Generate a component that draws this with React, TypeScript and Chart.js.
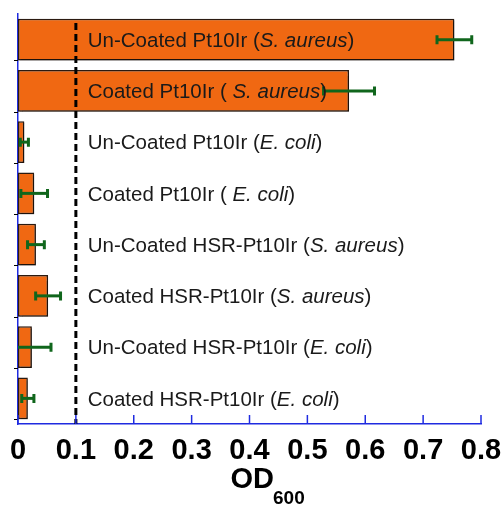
import React, { useEffect, useRef } from "react";
import { Chart, registerables } from "chart.js";

Chart.register(...registerables);

// ---------- data ----------
const labelPrefixes = [
  "Un-Coated Pt10Ir (",
  "Coated Pt10Ir ( ",
  "Un-Coated Pt10Ir (",
  "Coated Pt10Ir ( ",
  "Un-Coated HSR-Pt10Ir (",
  "Coated HSR-Pt10Ir (",
  "Un-Coated HSR-Pt10Ir (",
  "Coated HSR-Pt10Ir (",
];
const labelSpecies = [
  "S. aureus",
  "S. aureus",
  "E. coli",
  "E. coli",
  "S. aureus",
  "S. aureus",
  "E. coli",
  "E. coli",
];
const labelSuffix = ")";
const od600Values = [0.754, 0.572, 0.011, 0.028, 0.031, 0.052, 0.024, 0.017];
const od600Errors = [0.03, 0.044, 0.007, 0.023, 0.0145, 0.0215, 0.033, 0.0105];
const xTickValues = [0, 0.1, 0.2, 0.3, 0.4, 0.5, 0.6, 0.7, 0.8];
const thresholdOD = 0.1;
const axisTitleMain = "OD";
const axisTitleSub = "600";

// ---------- styles ----------
const FONT = "'Liberation Sans', Arial, Helvetica, sans-serif";
const AXIS_BLUE = "#1f2be0";
const BAR_FILL = "#f06812";
const BAR_BORDER = "#2b1a10";
const ERR_GREEN = "#10661c";
const TEXT_COLOR = "#1a1a1a";

const categoryKeys = labelPrefixes.map((p, i) => p + labelSpecies[i] + labelSuffix);

const overlayPlugin = {
  id: "overlay",
  beforeDatasetsDraw(chart: any) {
    const ctx = chart.ctx;
    ctx.save();
    ctx.shadowColor = "rgba(0,0,0,0.35)";
    ctx.shadowOffsetX = 1.5;
    ctx.shadowOffsetY = 1.5;
    ctx.shadowBlur = 1;
  },
  afterDatasetsDraw(chart: any) {
    const ctx = chart.ctx;
    ctx.restore();
    const xs = chart.scales.x;
    const area = chart.chartArea;
    const meta = chart.getDatasetMeta(0);

    // dashed threshold line
    const xd = xs.getPixelForValue(thresholdOD);
    ctx.save();
    ctx.strokeStyle = "#000";
    ctx.lineWidth = 3;
    ctx.setLineDash([7, 4]);
    ctx.beginPath();
    ctx.moveTo(xd, area.top + 9);
    ctx.lineTo(xd, area.bottom);
    ctx.stroke();
    ctx.restore();

    // error bars
    ctx.save();
    ctx.beginPath();
    ctx.rect(area.left, area.top, area.right - area.left, area.bottom - area.top);
    ctx.clip();
    ctx.strokeStyle = ERR_GREEN;
    ctx.lineWidth = 3;
    meta.data.forEach((bar: any, i: number) => {
      const y = bar.y;
      const x1 = xs.getPixelForValue(od600Values[i] - od600Errors[i]);
      const x2 = xs.getPixelForValue(od600Values[i] + od600Errors[i]);
      ctx.beginPath();
      ctx.moveTo(x1, y);
      ctx.lineTo(x2, y);
      ctx.stroke();
      ctx.beginPath();
      ctx.moveTo(x1, y - 4.5);
      ctx.lineTo(x1, y + 4.5);
      ctx.moveTo(x2, y - 4.5);
      ctx.lineTo(x2, y + 4.5);
      ctx.stroke();
    });
    ctx.restore();

    // in-plot labels
    ctx.save();
    ctx.fillStyle = TEXT_COLOR;
    ctx.textBaseline = "middle";
    ctx.textAlign = "left";
    const labelX = xs.getPixelForValue(0.1205);
    meta.data.forEach((bar: any, i: number) => {
      const y = bar.y + 1.5;
      let x = labelX;
      ctx.font = `20.5px ${FONT}`;
      ctx.fillText(labelPrefixes[i], x, y);
      x += ctx.measureText(labelPrefixes[i]).width;
      ctx.font = `italic 20.5px ${FONT}`;
      ctx.fillText(labelSpecies[i], x, y);
      x += ctx.measureText(labelSpecies[i]).width;
      ctx.font = `20.5px ${FONT}`;
      ctx.fillText(labelSuffix, x, y);
    });
    ctx.restore();

    // small black category ticks on the y axis
    ctx.save();
    ctx.strokeStyle = "#000";
    ctx.lineWidth = 1;
    meta.data.forEach((bar: any) => {
      const yb = Math.round(bar.y + bar.height / 2) + 0.5;
      ctx.beginPath();
      ctx.moveTo(area.left - 4, yb);
      ctx.lineTo(area.left, yb);
      ctx.stroke();
    });
    ctx.restore();

    // inward blue x ticks
    ctx.save();
    ctx.strokeStyle = AXIS_BLUE;
    ctx.lineWidth = 1.5;
    xTickValues.forEach((v) => {
      const x = xs.getPixelForValue(v);
      ctx.beginPath();
      ctx.moveTo(x, area.bottom);
      ctx.lineTo(x, area.bottom - 9);
      ctx.stroke();
    });
    ctx.restore();

    // axis title with subscript
    ctx.save();
    ctx.fillStyle = "#000";
    ctx.textBaseline = "alphabetic";
    ctx.textAlign = "left";
    ctx.font = `bold 29px ${FONT}`;
    const cx = (area.left + area.right) / 2;
    const tx = cx - 19;
    ctx.fillText(axisTitleMain, tx, 488);
    const w = ctx.measureText(axisTitleMain).width;
    ctx.font = `bold 19px ${FONT}`;
    ctx.fillText(axisTitleSub, tx + w - 1, 504);
    ctx.restore();
  },
};

export default function App() {
  const ref = useRef<HTMLCanvasElement | null>(null);
  useEffect(() => {
    if (!ref.current) return;
    const chart = new Chart(ref.current, {
      type: "bar",
      data: {
        labels: categoryKeys,
        datasets: [
          {
            data: od600Values,
            backgroundColor: BAR_FILL,
            borderColor: BAR_BORDER,
            borderWidth: 1.5,
            borderSkipped: false,
            barPercentage: 0.81,
            categoryPercentage: 1,
          },
        ],
      },
      options: {
        indexAxis: "y",
        responsive: false,
        animation: false,
        devicePixelRatio: 1,
        layout: { padding: { left: 18, right: 22, top: 14, bottom: 0 } },
        plugins: {
          legend: { display: false },
          tooltip: { enabled: false },
          title: { display: false },
        },
        scales: {
          x: {
            type: "linear",
            min: 0,
            max: 0.8,
            afterBuildTicks(scale: any) {
              scale.ticks = xTickValues.map((v) => ({ value: v }));
            },
            afterFit(scale: any) {
              scale.height = 81;
              scale.paddingLeft = 0;
              scale.paddingRight = 0;
            },
            ticks: {
              color: "#000",
              padding: 10,
              font: { family: FONT, size: 29, weight: "bold" },
              maxRotation: 0,
              autoSkip: false,
              callback: (v: any) => (Number(v) === 0 ? "0" : Number(v).toFixed(1)),
            },
            grid: { display: false, drawTicks: false },
            border: { display: true, color: AXIS_BLUE, width: 1.5 },
          },
          y: {
            type: "category",
            ticks: { display: false },
            afterFit(scale: any) {
              scale.width = 0;
            },
            grid: { display: false, drawTicks: false },
            border: { display: true, color: AXIS_BLUE, width: 1.5 },
          },
        },
      },
      plugins: [overlayPlugin],
    } as any);
    return () => chart.destroy();
  }, []);
  return (
    <canvas
      ref={ref}
      width={503}
      height={505}
      style={{ position: "fixed", left: 0, top: 0, width: 503, height: 505, display: "block" }}
    />
  );
}
